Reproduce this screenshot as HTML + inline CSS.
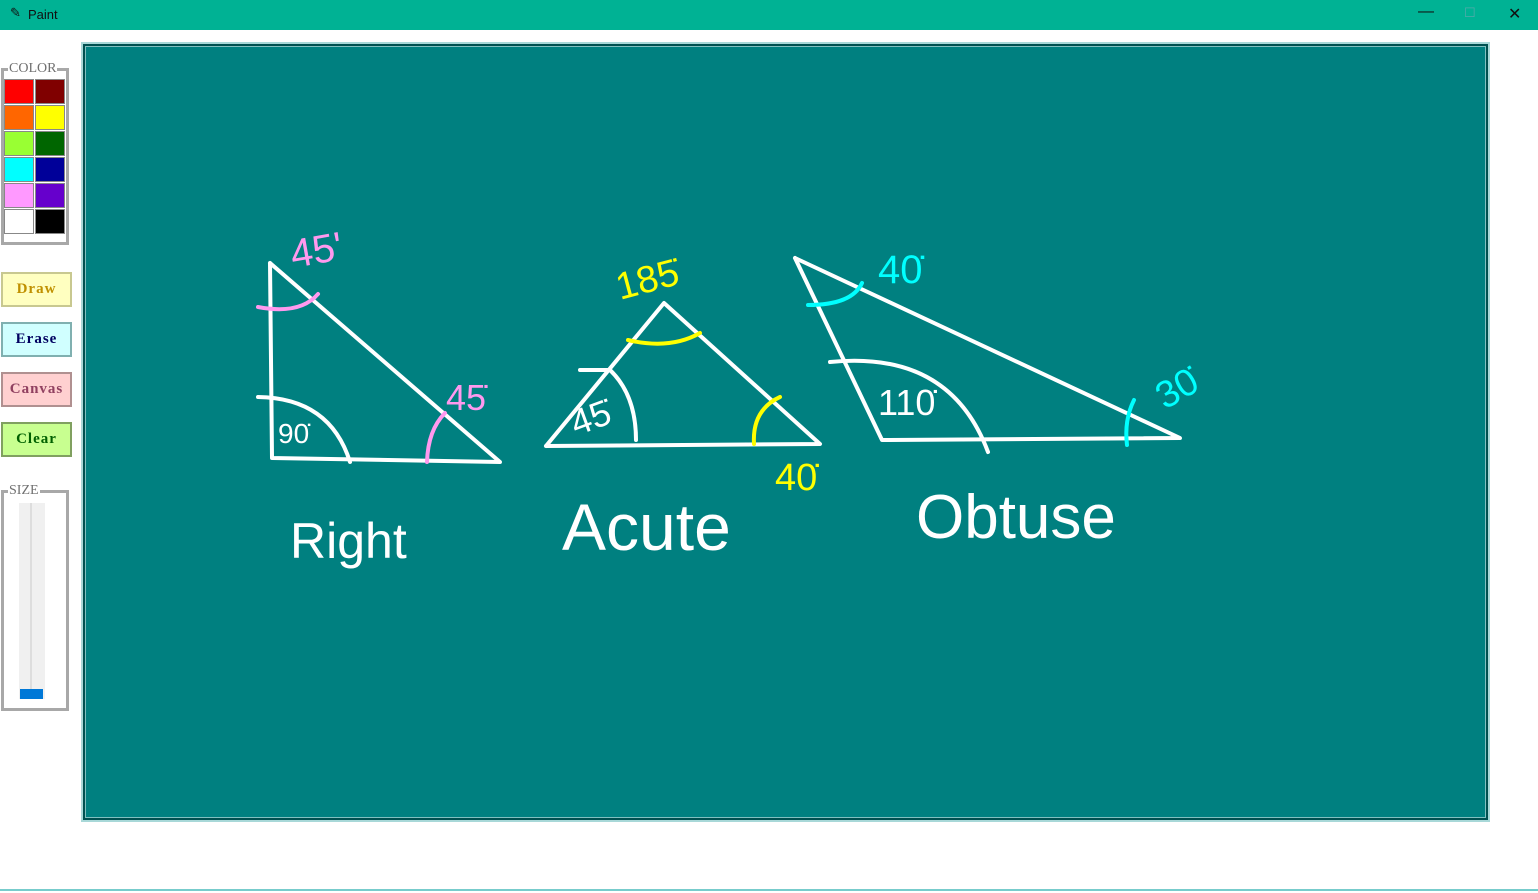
<!DOCTYPE html>
<html><head><meta charset="utf-8"><style>
body{margin:0;width:1538px;height:893px;background:#fff;position:relative;overflow:hidden;font-family:"Liberation Serif",serif}
.tb{position:absolute;left:0;top:0;width:1538px;height:30px;background:#00b294}
.tb span{position:absolute;left:28px;top:7px;font:13px "Liberation Sans",sans-serif;color:#111}
.sw{position:absolute;width:30px;height:25px;box-sizing:border-box;border:1px solid #888}
.btn{position:absolute;left:1px;width:71px;height:35px;box-sizing:border-box;border:2px solid;font-size:15px;font-weight:bold;text-align:center;line-height:31px;letter-spacing:1px}
.grp{position:absolute;border:3px solid #a8a8a8;box-sizing:border-box}
.lbl{position:absolute;background:#fff;font-size:14px;color:#707070;padding:0 1px}
</style></head><body>
<div class="tb"><span style="left:10px;top:5px">✎</span><span>Paint</span>
<span style="left:1418px;top:3px;font-size:16px">—</span>
<span style="left:1464px;top:5px;color:#5aa">☐</span>
<span style="left:1508px;top:4px;font-size:16px">✕</span></div>

<div class="grp" style="left:1px;top:68px;width:68px;height:177px"></div>
<div class="lbl" style="left:8px;top:61px">COLOR</div>
<div id="pal"></div>

<div class="btn" style="top:272px;background:#ffffc0;border-color:#c8c890;color:#c09000">Draw</div>
<div class="btn" style="top:322px;background:#d0ffff;border-color:#80b0b0;color:#000060">Erase</div>
<div class="btn" style="top:372px;background:#ffd0d0;border-color:#b09090;color:#904060">Canvas</div>
<div class="btn" style="top:422px;background:#c8ff90;border-color:#80a060;color:#006000">Clear</div>

<div class="grp" style="left:1px;top:490px;width:68px;height:221px"></div>
<div class="lbl" style="left:8px;top:483px">SIZE</div>
<div style="position:absolute;left:19px;top:503px;width:26px;height:196px;background:#f0f0f0">
<div style="position:absolute;left:11px;top:0;width:2px;height:196px;background:#ddd"></div>
<div style="position:absolute;left:1px;top:186px;width:23px;height:10px;background:#0078d7"></div></div>

<div style="position:absolute;left:81px;top:42px;width:1409px;height:780px;background:#a8d8d8">
<div style="position:absolute;left:2px;top:2px;right:2px;bottom:2px;background:#005050">
<div style="position:absolute;left:2px;top:2px;right:2px;bottom:2px;background:#80c0c0">
<div style="position:absolute;left:1px;top:1px;right:1px;bottom:1px;background:#008080"></div></div></div></div>

<svg style="position:absolute;left:0;top:0" width="1538" height="893" fill="none" stroke-linecap="round" stroke-linejoin="round">
<g stroke="#fff" stroke-width="4">
<path d="M270 263 L272 458 L500 462 L270 263"/>
<path d="M258 397 Q330 398 350 462"/>
<path d="M546 446 L664 303 L820 444 L546 446"/>
<path d="M580 370 L610 370 Q636 395 636 440"/>
<path d="M795 258 L882 440 L1180 438 L795 258"/>
<path d="M830 362 Q950 350 988 452"/>
</g>
<g stroke="#ff99ee" stroke-width="4"><path d="M258 307 Q300 315 318 294"/><path d="M427 462 Q428 430 445 413"/></g>
<g stroke="#ffff00" stroke-width="4"><path d="M628 340 Q670 350 700 333"/><path d="M754 444 Q752 410 780 397"/></g>
<g stroke="#00ffff" stroke-width="4"><path d="M808 305 Q852 305 862 283"/><path d="M1127 445 Q1124 420 1134 400"/></g>
<g font-family="Liberation Sans,sans-serif" stroke="none">
<text x="293" y="268" fill="#ff99ee" font-size="40" transform="rotate(-10 293 268)">45'</text>
<text x="446" y="410" fill="#ff99ee" font-size="36">45̇</text>
<text x="278" y="443" fill="#fff" font-size="28">90̇</text>
<text x="620" y="300" fill="#ffff00" font-size="38" transform="rotate(-15 620 300)">185̇</text>
<text x="576" y="436" fill="#fff" font-size="36" transform="rotate(-20 576 436)">45̇</text>
<text x="775" y="490" fill="#ffff00" font-size="38">40̇</text>
<text x="878" y="283" fill="#00ffff" font-size="40">40̇</text>
<text x="878" y="415" fill="#fff" font-size="36">110̇</text>
<text x="1165" y="410" fill="#00ffff" font-size="38" transform="rotate(-30 1165 410)">30̇</text>
<text x="290" y="558" fill="#fff" font-size="50">Right</text>
<text x="562" y="550" fill="#fff" font-size="66">Acute</text>
<text x="916" y="538" fill="#fff" font-size="62">Obtuse</text>
</g></svg>
<div style="position:absolute;left:0;top:889px;width:1538px;height:2px;background:#7cc"></div>
<script>
const colors=["#ff0000","#800000","#ff6600","#ffff00","#99ff33","#006600","#00ffff","#000099","#ff99ff","#6600cc","#ffffff","#000000"];
const pal=document.getElementById('pal');
colors.forEach((c,i)=>{const d=document.createElement('div');d.className='sw';
d.style.left=(4+(i%2)*31)+'px';d.style.top=(79+Math.floor(i/2)*26)+'px';d.style.background=c;


pal.appendChild(d);});
</script>
</body></html>
